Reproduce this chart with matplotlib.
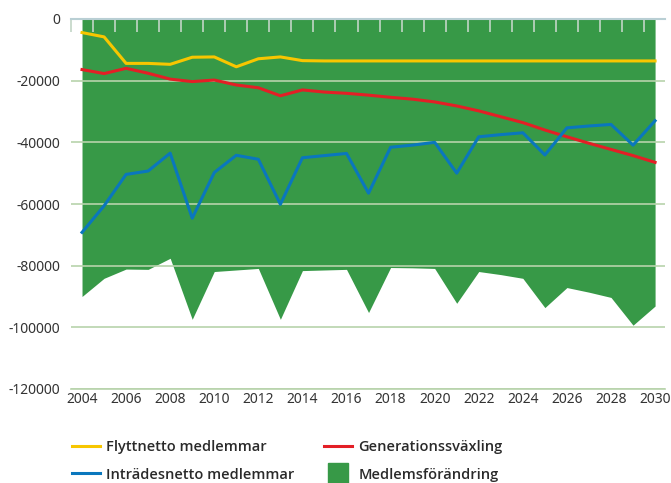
import numpy as np
import matplotlib
matplotlib.use("Agg")
import matplotlib.pyplot as plt
from matplotlib.lines import Line2D
from matplotlib.ticker import FixedLocator

plt.rcParams['font.family'] = ['Noto Sans', 'DejaVu Sans']
plt.rcParams['axes.unicode_minus'] = False

years = list(range(2004, 2031))
flyttnetto = [-4400, -5800, -14400, -14400, -14700, -12400, -12300, -15500, -12900, -12300,
              -13500, -13600, -13600, -13600, -13600, -13600, -13600, -13600, -13600, -13600,
              -13600, -13600, -13600, -13600, -13600, -13600, -13600]
generation = [-16400, -17700, -16000, -17600, -19500, -20300, -19800, -21400, -22300, -24900,
              -23000, -23700, -24100, -24700, -25400, -26000, -26900, -28200, -29800, -31700,
              -33600, -36000, -38200, -40300, -42300, -44300, -46500]
intrade = [-69200, -60600, -50400, -49300, -43500, -64600, -49800, -44200, -45500, -60100,
           -45000, -44300, -43600, -56500, -41600, -40900, -40000, -50000, -38200, -37500,
           -36900, -44100, -35300, -34700, -34200, -40900, -33000]
medlem = [-90000, -84100, -81100, -81200, -77600, -97400, -81900, -81400, -80900, -97400,
          -81600, -81400, -81200, -95200, -80600, -80700, -80900, -92200, -81900, -82900,
          -84100, -93600, -87100, -88600, -90300, -99300, -93100]
xtick_labels = [str(y) for y in range(2004, 2031, 2)]
yticks = [0, -20000, -40000, -60000, -80000, -100000, -120000]

labels = ["Flyttnetto medlemmar", "Inträdesnetto medlemmar",
          "Generationssväxling", "Medlemsförändring"]

c_yellow = "#f7c600"
c_red = "#e31f26"
c_blue = "#0a77bd"
c_green = "#379947"
c_grid = "#b7d3ab"
c_top = "#b9cfd4"

fig = plt.figure(figsize=(6.71, 4.83), dpi=100)
ax = fig.add_axes([71/671, 1-389/483, (665-71)/671, (389-19)/483])

ax.fill_between(years, 0, medlem, color=c_green, linewidth=0, zorder=1)
ax.plot(years, flyttnetto, color=c_yellow, lw=2.2, zorder=3)
ax.plot(years, generation, color=c_red, lw=2.2, zorder=3)
ax.plot(years, intrade, color=c_blue, lw=2.2, zorder=3)

ax.set_xlim(2003.5, 2030.45)
ax.set_ylim(-120000, 0)
ax.set_yticks(yticks)
ax.set_yticklabels([str(v) for v in yticks])
ax.set_xticks(list(range(2004, 2031, 2)))
ax.set_xticklabels(xtick_labels)
ax.xaxis.set_minor_locator(FixedLocator(np.arange(2003.5, 2031, 1)))

ax.grid(axis='y', color=c_grid, lw=1.2, zorder=2)
ax.set_axisbelow(False)
for ln in ax.get_ygridlines():
    ln.set_zorder(2)

ax.tick_params(axis='y', length=0, pad=8, labelsize=10, labelcolor="#333333")
ax.tick_params(axis='x', which='major', length=0, pad=2, labelsize=10, labelcolor="#333333")
ax.tick_params(axis='x', which='minor', bottom=False, top=True, direction='in',
               length=9, width=1.2, color="#c2d6c6")

for s in ['left', 'right']:
    ax.spines[s].set_visible(False)
ax.spines['top'].set_color(c_top)
ax.spines['top'].set_linewidth(1.5)
ax.spines['top'].set_zorder(4)
ax.spines['bottom'].set_color(c_grid)
ax.spines['bottom'].set_linewidth(1.2)

handles = [
    Line2D([], [], color=c_yellow, lw=2.2),
    Line2D([], [], color=c_blue, lw=2.2),
    Line2D([], [], color=c_red, lw=2.2),
    Line2D([], [], color=c_green, marker='s', linestyle='none', markersize=14),
]
prop = {'family': ['Open Sans', 'Noto Sans', 'DejaVu Sans'], 'size': 10.5, 'weight': 600}
common = dict(loc='upper left', frameon=False, prop=prop, borderpad=0, borderaxespad=0,
              handlelength=1.9, handletextpad=0.45, labelspacing=0.93)
leg1 = fig.legend(handles[:2], labels[:2], bbox_to_anchor=(72/671, 1-440/483), **common)
leg2 = fig.legend(handles[2:], labels[2:], bbox_to_anchor=(324/671, 1-440/483), **common)
for lg in (leg1, leg2):
    for t in lg.get_texts():
        t.set_color("#2a2a2a")

fig.savefig("out.png", dpi=100)
